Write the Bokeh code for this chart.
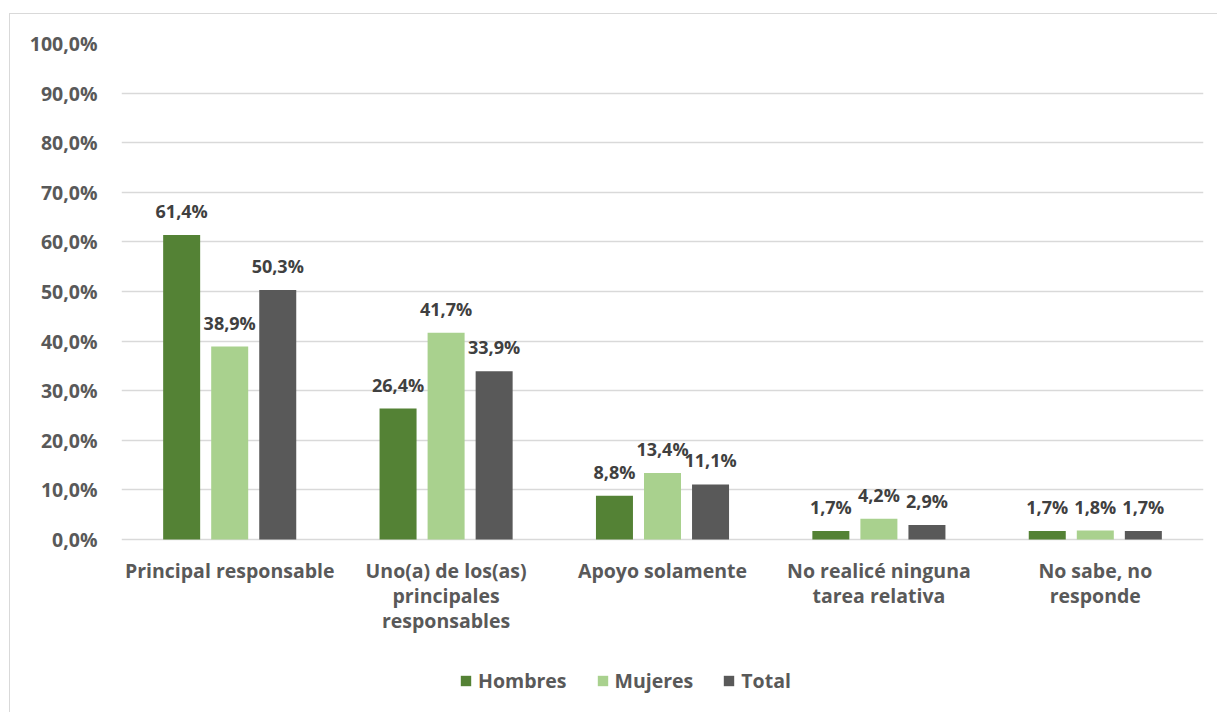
from bokeh.plotting import figure
from bokeh.models import Range1d, FixedTicker, Legend, LegendItem, ColumnDataSource
from bokeh.core.properties import value
from bokeh.embed import file_html
from bokeh.resources import INLINE

categories = ["Principal responsable", "Uno(a) de los(as)\nprincipales\nresponsables",
              "Apoyo solamente", "No realicé ninguna\ntarea relativa", "No sabe, no\nresponde"]
series_names = ["Hombres", "Mujeres", "Total"]
hombres = [61.4, 26.4, 8.8, 1.7, 1.7]
mujeres = [38.9, 41.7, 13.4, 4.2, 1.8]
total = [50.3, 33.9, 11.1, 2.9, 1.7]
y_ticks = [0, 10, 20, 30, 40, 50, 60, 70, 80, 90, 100]

colors = ["#548235", "#A9D18E", "#595959"]
FONT = "Open Sans"
FS = "19.5px"
FS_DATA = "18px"

# frame spans 0%..100% (496 px) plus 174 px below the 0% line for labels & legend
p = figure(width=1208, height=699, output_backend="svg", toolbar_location=None,
           x_range=Range1d(0, 5), y_range=Range1d(-100 * 174 / 496, 100),
           min_border_left=111, min_border_right=15, min_border_top=29, min_border_bottom=0)
p.styles = {"border-top": "1px solid #d9d9d9", "border-left": "1px solid #d9d9d9",
            "margin-top": "13px", "margin-left": "9px"}
p.outline_line_color = None
p.background_fill_color = "white"

p.yaxis.ticker = FixedTicker(ticks=y_ticks)
p.yaxis.major_label_overrides = {t: f"{t:.1f}".replace(".", ",") + "%" for t in y_ticks}
p.yaxis.axis_line_color = None
p.yaxis.major_tick_line_color = None
p.yaxis.minor_tick_line_color = None
p.yaxis.major_label_text_font = FONT
p.yaxis.major_label_text_font_style = "bold"
p.yaxis.major_label_text_font_size = FS
p.yaxis.major_label_text_color = "#595959"
p.yaxis.major_label_standoff = 18

p.xaxis.visible = False
p.xgrid.grid_line_color = None
p.ygrid.grid_line_color = "#D9D9D9"
p.ygrid.grid_line_width = 1.5
p.ygrid.ticker = FixedTicker(ticks=y_ticks)

cx = [i + 0.5 for i in range(len(categories))]

# category labels under the 0% line
p.text(x=cx, y=[0] * len(cx), text=categories, text_align="center", text_baseline="top",
       y_offset=17, text_font=value(FONT), text_font_style="bold", text_font_size=FS,
       text_color="#595959", text_line_height=0.93)

offsets = [-0.222, 0.0, 0.222]
items = []
for name, vals, col, off in zip(series_names, [hombres, mujeres, total], colors, offsets):
    src = ColumnDataSource(dict(x=[c + off for c in cx], top=vals,
                                lab=[f"{v:.1f}".replace(".", ",") + "%" for v in vals]))
    r = p.vbar(x="x", top="top", width=0.171, bottom=0, source=src, fill_color=col, line_color=None)
    p.text(x="x", y="top", text="lab", source=src, text_align="center", text_baseline="bottom",
           y_offset=-12, text_font=value(FONT), text_font_style="bold", text_font_size=FS_DATA,
           text_color="#404040")
    items.append(LegendItem(label=name, renderers=[r]))

legend = Legend(items=items, orientation="horizontal", location=(338, 19),
                label_text_font=FONT, label_text_font_style="bold", label_text_font_size=FS,
                label_text_color="#595959", glyph_width=13, glyph_height=13, label_standoff=6,
                spacing=29, border_line_color=None, background_fill_alpha=0, padding=6, margin=0)
p.add_layout(legend, "center")

open("out.html", "w").write(file_html(p, INLINE))
